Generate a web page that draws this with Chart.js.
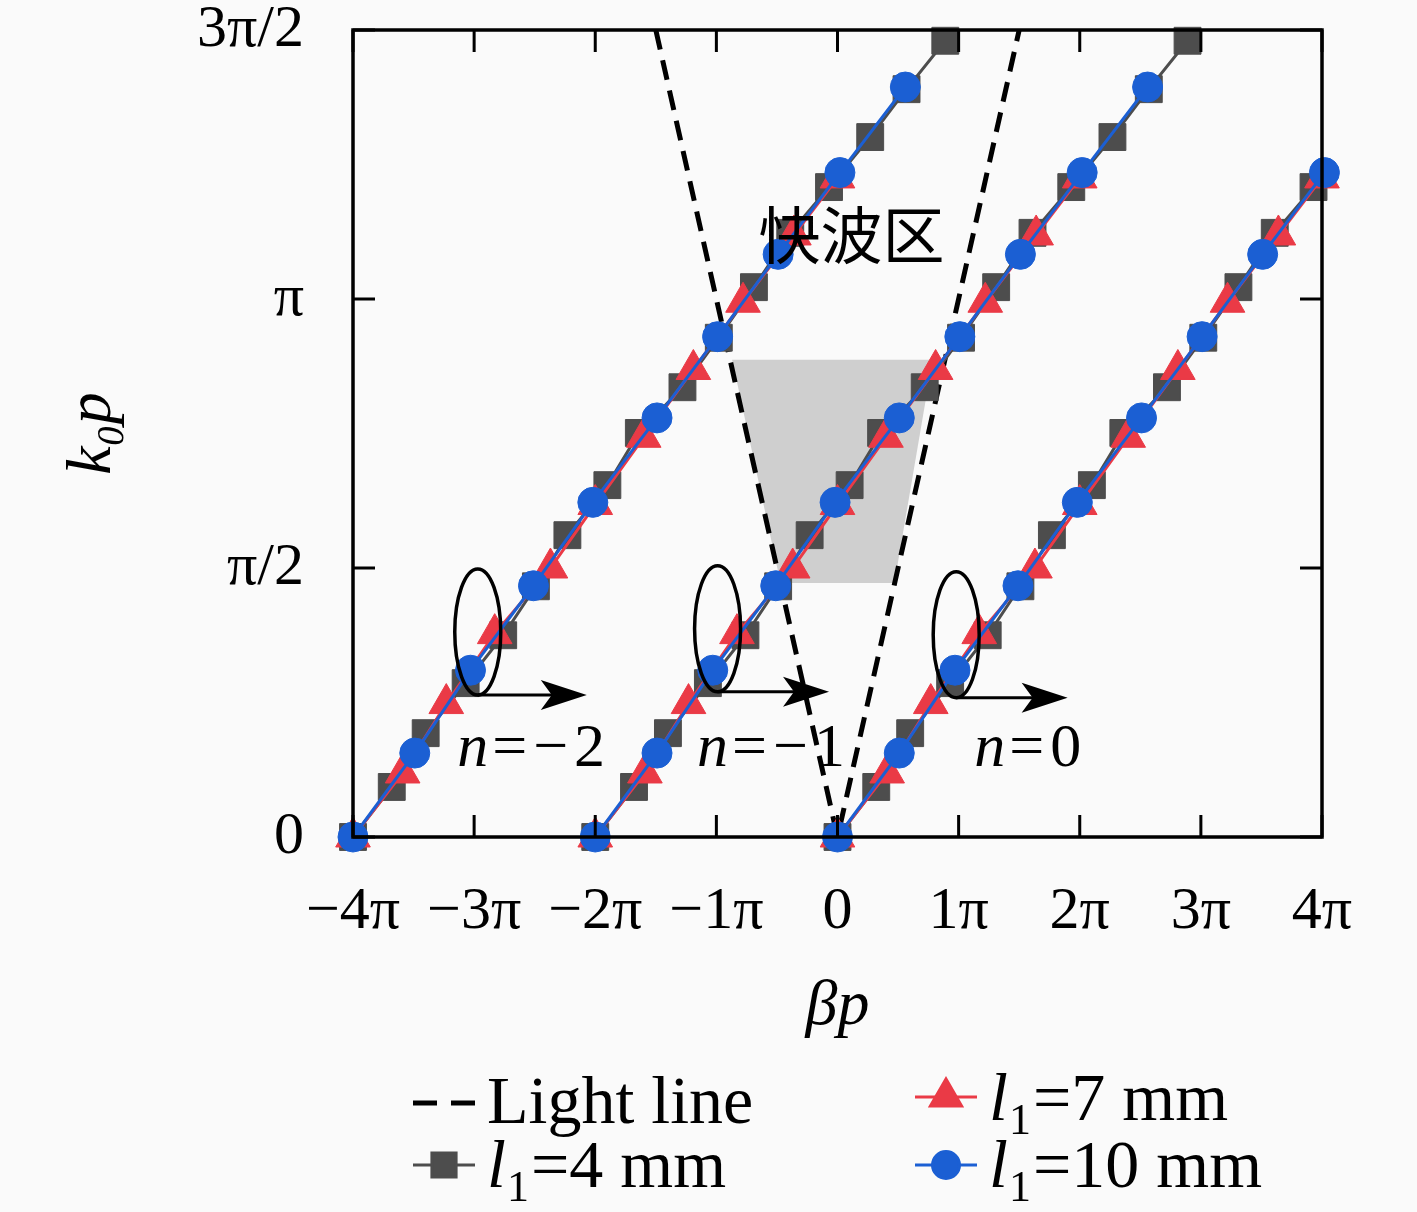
<!DOCTYPE html>
<html>
<head>
<meta charset="utf-8">
<script src="https://cdn.jsdelivr.net/npm/chart.js@4.4.0/dist/chart.umd.min.js"></script>
<style>
  html, body { margin: 0; padding: 0; background: #fafafa; }
  canvas { display: block; }
</style>
</head>
<body>
<canvas id="myChart" width="1417" height="1212"></canvas>
<script>
// every value is in units of pi (βp and k0p)
const harmonics = [-2, -1, 0];

// one period of the dispersion curve, n = 0 harmonic
const beta4mm = [0, 0.32, 0.60, 0.93, 1.24, 1.51, 1.77, 2.10, 2.36, 2.72, 3.02, 3.31, 3.61, 3.93, 4.27, 4.57, 4.89];
const k4mm = [0, 0.093, 0.193, 0.286, 0.375, 0.466, 0.561, 0.654, 0.751, 0.836, 0.928, 1.022, 1.123, 1.208, 1.301, 1.390, 1.480];

const beta7mm = [0, 0.41, 0.77, 1.17, 1.63, 2.00, 2.40, 2.81, 3.22, 3.64, 4.00];
const k7mm = [0, 0.119, 0.248, 0.378, 0.500, 0.618, 0.743, 0.869, 0.994, 1.119, 1.225];

const beta10mm = [0, 0.51, 0.97, 1.49, 1.98, 2.51, 3.01, 3.51, 4.02, 4.56];
const k10mm = [0, 0.156, 0.310, 0.467, 0.622, 0.779, 0.930, 1.083, 1.235, 1.394];

const lightBeta = [-1.5, 0, 1.5];
const lightK = [1.5, 0, 1.5];

// shaded fast wave region
const fastBeta = [-0.87, 0.785, 0.47, -0.47];
const fastK = [0.887, 0.887, 0.472, 0.472];

const xTickLabels = ['−4π', '−3π', '−2π', '−1π', '0', '1π', '2π', '3π', '4π'];
const yTickLabels = ['0', 'π/2', 'π', '3π/2'];

const SERIF = '"Liberation Serif", "DejaVu Serif", serif';

// shift the curve by 2nπ for each space harmonic, with a gap between them
function branches(beta, k) {
  const pts = [];
  harmonics.forEach(n => {
    beta.forEach((b, i) => {
      const x = b + 2 * n;
      if (x <= 4.05) pts.push({ x: x, y: k[i] });
    });
    pts.push({ x: 2 * n, y: null });
  });
  return pts;
}

function series(label, beta, k, color, style, radius) {
  return {
    label: label,
    data: branches(beta, k),
    showLine: true,
    borderColor: color,
    backgroundColor: color,
    borderWidth: 3,
    pointStyle: style,
    pointRadius: radius,
    pointBorderWidth: 1,
    pointBorderColor: color,
    pointBackgroundColor: color,
    tension: 0,
    clip: false
  };
}

const harmonicMarks = [
  { x: -2.97, y: 0.381, arrowTo: -2.07, textX: -3.14, text: '−2' },
  { x: -0.99, y: 0.387, arrowTo: -0.07, textX: -1.16, text: '−1' },
  { x: 0.98, y: 0.376, arrowTo: 1.90, textX: 1.13, text: '0' }
];

const annotate = {
  id: 'annotate',
  beforeDatasetsDraw(chart) {
    const { ctx, scales: { x, y } } = chart;
    ctx.save();
    ctx.fillStyle = '#cfcfcf';
    ctx.beginPath();
    fastBeta.forEach((b, i) => {
      const px = x.getPixelForValue(b), py = y.getPixelForValue(fastK[i]);
      if (i === 0) ctx.moveTo(px, py); else ctx.lineTo(px, py);
    });
    ctx.closePath();
    ctx.fill();
    ctx.restore();
  },
  afterDatasetsDraw(chart) {
    const { ctx, chartArea: a, scales: { x, y } } = chart;
    ctx.save();
    ctx.strokeStyle = '#000';
    ctx.fillStyle = '#000';
    ctx.lineWidth = 3.5;
    ctx.strokeRect(a.left, a.top, a.right - a.left, a.bottom - a.top);

    const len = 22;
    ctx.lineWidth = 3;
    ctx.beginPath();
    x.ticks.forEach(t => {
      const px = x.getPixelForValue(t.value);
      ctx.moveTo(px, a.bottom); ctx.lineTo(px, a.bottom - len);
      ctx.moveTo(px, a.top); ctx.lineTo(px, a.top + len);
    });
    y.ticks.forEach(t => {
      const py = y.getPixelForValue(t.value);
      ctx.moveTo(a.left, py); ctx.lineTo(a.left + len, py);
      ctx.moveTo(a.right, py); ctx.lineTo(a.right - len, py);
    });
    ctx.stroke();

    // ellipses, arrows and n labels
    harmonicMarks.forEach(m => {
      const cx = x.getPixelForValue(m.x), cy = y.getPixelForValue(m.y);
      const rx = 23, ry = 63;
      ctx.lineWidth = 3.5;
      ctx.beginPath();
      ctx.ellipse(cx, cy, rx, ry, 0, 0, Math.PI * 2);
      ctx.stroke();

      const ay = cy + ry;
      const ex = x.getPixelForValue(m.arrowTo);
      ctx.lineWidth = 3;
      ctx.beginPath();
      ctx.moveTo(cx, ay);
      ctx.lineTo(ex - 30, ay);
      ctx.stroke();
      ctx.beginPath();
      ctx.moveTo(ex, ay);
      ctx.lineTo(ex - 46, ay - 15);
      ctx.lineTo(ex - 35, ay);
      ctx.lineTo(ex - 46, ay + 15);
      ctx.closePath();
      ctx.fill();

      const tx = x.getPixelForValue(m.textX), ty = y.getPixelForValue(0.132);
      ctx.textBaseline = 'alphabetic';
      ctx.textAlign = 'left';
      ctx.font = 'italic 62px ' + SERIF;
      ctx.fillText('n', tx, ty);
      const w = ctx.measureText('n').width;
      ctx.font = '62px ' + SERIF;
      ctx.letterSpacing = '6px';
      ctx.fillText('=' + m.text, tx + w + 4, ty);
      ctx.letterSpacing = '0px';
    });

    ctx.font = '62px "Noto Sans CJK SC", sans-serif';
    ctx.textAlign = 'center';
    ctx.textBaseline = 'middle';
    ctx.fillText('快波区', x.getPixelForValue(0.116), y.getPixelForValue(1.119));
    ctx.restore();
  },
  afterDraw(chart) {
    const { ctx } = chart;
    const ds = chart.data.datasets;
    // [dataset index, sample left x, sample y, text baseline, subscript, rest of label]
    const slots = [
      [3, 413, 1103, 1123, null, 'Light line'],
      [2, 413, 1165, 1187, '1', '=4 mm'],
      [1, 915, 1097, 1120, '1', '=7 mm'],
      [0, 915, 1165, 1187, '1', '=10 mm']
    ];
    ctx.save();
    slots.forEach(([i, sx, sy, base, sub, rest]) => {
      const d = ds[i];
      ctx.strokeStyle = d.borderColor;
      ctx.fillStyle = d.backgroundColor;
      ctx.lineWidth = d.borderDash ? 5 : d.borderWidth;
      ctx.setLineDash(d.borderDash ? [24, 14] : []);
      ctx.beginPath();
      ctx.moveTo(sx, sy);
      ctx.lineTo(sx + 62, sy);
      ctx.stroke();
      ctx.setLineDash([]);
      if (d.pointRadius > 0) {
        Chart.helpers.drawPoint(ctx, {
          pointStyle: d.pointStyle, rotation: 0,
          radius: d.pointRadius * 0.9, borderWidth: 1
        }, sx + 31, sy);
      }
      ctx.fillStyle = '#000';
      ctx.textAlign = 'left';
      ctx.textBaseline = 'alphabetic';
      let tx = sx + 74;
      if (sub) {
        ctx.font = 'italic 68px ' + SERIF;
        ctx.fillText('l', tx, base);
        tx += ctx.measureText('l').width + 1;
        ctx.font = '44px ' + SERIF;
        ctx.fillText(sub, tx, base + 14);
        tx += ctx.measureText(sub).width + 2;
      }
      ctx.font = '68px ' + SERIF;
      ctx.fillText(rest, tx, base);
    });
    ctx.restore();
  }
};

new Chart(document.getElementById('myChart').getContext('2d'), {
  type: 'scatter',
  data: {
    datasets: [
      series('l₁=10 mm', beta10mm, k10mm, '#1b5fd3', 'circle', 15),
      series('l₁=7 mm', beta7mm, k7mm, '#ea3a46', 'triangle', 20),
      series('l₁=4 mm', beta4mm, k4mm, '#4d4d4d', 'rect', 19),
      {
        label: 'Light line',
        data: lightBeta.map((b, i) => ({ x: b, y: lightK[i] })),
        showLine: true,
        borderColor: '#000',
        backgroundColor: '#000',
        borderWidth: 5,
        borderDash: [20, 11],
        pointRadius: 0,
        tension: 0,
        clip: false
      }
    ]
  },
  options: {
    responsive: false,
    devicePixelRatio: 1,
    animation: false,
    layout: { padding: { top: 30, right: 95, left: 0, bottom: 0 } },
    plugins: { legend: { display: false }, tooltip: { enabled: false } },
    scales: {
      x: {
        type: 'linear', min: -4, max: 4,
        afterFit: s => { s.height = 375; },
        grid: { display: false, drawTicks: true, tickLength: 39 },
        border: { display: false },
        ticks: {
          stepSize: 1, padding: 0, color: '#000', autoSkip: false, maxRotation: 0,
          font: { family: SERIF, size: 60 },
          callback: v => xTickLabels[Math.round(v) + 4]
        },
        title: {
          display: true, text: 'βp', color: '#000',
          font: { family: SERIF, size: 64, style: 'italic' },
          padding: { top: 0, bottom: 166 }
        }
      },
      y: {
        type: 'linear', min: 0, max: 1.5,
        afterFit: s => { s.width = 353; },
        grid: { display: false, drawTicks: true, tickLength: 49 },
        border: { display: false },
        ticks: {
          stepSize: 0.5, padding: 0, color: '#000', autoSkip: false,
          font: { family: SERIF, size: 60, lineHeight: 1 },
          callback: v => yTickLabels[Math.round(v * 2)]
        },
        title: {
          display: true, text: 'k₀p', color: '#000',
          font: { family: SERIF, size: 64, style: 'italic' },
          padding: { top: 55, bottom: 0 }
        }
      }
    }
  },
  plugins: [annotate]
});
</script>
</body>
</html>
